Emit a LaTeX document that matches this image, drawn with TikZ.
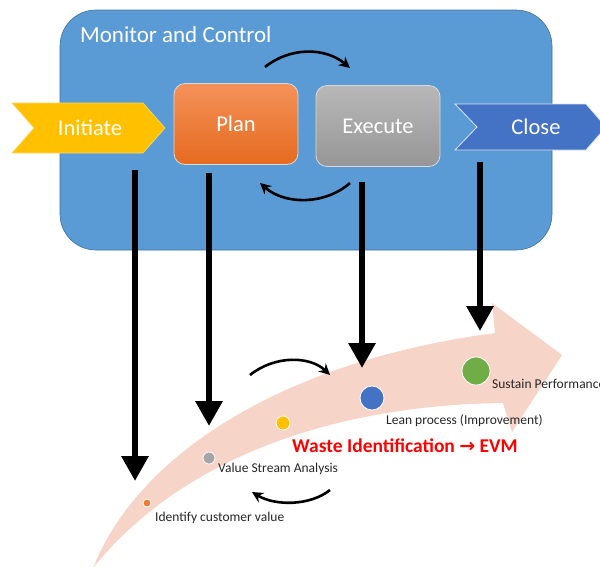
\documentclass[tikz,border=0pt]{standalone}
\usepackage{fontspec}
\setmainfont{Carlito}
\newfontfamily\symfont{DejaVu Sans}
\usetikzlibrary{arrows.meta}
\definecolor{boxblue}{HTML}{5B9BD5}
\definecolor{boxedge}{HTML}{41719C}
\definecolor{gold}{HTML}{FFC000}
\definecolor{orangeA}{HTML}{F4915A}
\definecolor{orangeB}{HTML}{E56B1F}
\definecolor{grayA}{HTML}{B8B8B8}
\definecolor{grayB}{HTML}{969696}
\definecolor{closeblue}{HTML}{4472C4}
\definecolor{flow}{HTML}{F7D4C8}
\definecolor{dotorange}{HTML}{ED7D31}
\definecolor{dotgray}{HTML}{A5A5A5}
\definecolor{dotgreen}{HTML}{70AD47}
\definecolor{labelgray}{HTML}{262626}
\begin{document}
\begin{tikzpicture}[x=1pt,y=-1pt,
  bigtext/.style={text=white, font=\fontsize{22.5}{26}\selectfont},
  phase/.style={bigtext, rounded corners=11pt, draw=white!85!black, line width=0.8pt, minimum width=124pt, minimum height=81pt},
  drop/.style={line width=6pt, -{Triangle[length=25pt,width=26pt]}},
  cycle/.style={line width=2.6pt, -{Stealth[length=11pt,width=11pt]}},
  stepdot/.style={circle, draw=white, line width=0.8pt, inner sep=0pt},
  steplabel/.style={anchor=west, text=labelgray, font=\fontsize{13.5}{16}\selectfont, inner sep=0pt}]
\useasboundingbox (0,0) rectangle (600,566);

% monitoring frame
\filldraw[fill=boxblue, draw=boxedge, line width=0.6pt, rounded corners=36pt] (60,10) rectangle (552,250);
\node[anchor=west, text=white, font=\fontsize{23}{27}\selectfont, inner sep=0pt] (mc) at (80,35) {Monitor and Control};

% entry and exit chevrons
\filldraw[fill=gold, draw=gold!60!white, line width=0.6pt] (12,103) -- (143,103) -- (165,128) -- (143,153) -- (12,153) -- (34,128) -- cycle;
\node[bigtext] (init) at (90,128) {Initiate};
\filldraw[fill=closeblue, draw=white!80!closeblue, line width=0.8pt] (455,104) -- (586,104) -- (606,127) -- (586,150) -- (455,150) -- (477,127) -- cycle;
\node[bigtext] (close) at (536,127) {Close};

% plan and execute boxes
\node[phase, top color=orangeA, bottom color=orangeB] (plan) at (236,124) {Plan};
\node[phase, top color=grayA, bottom color=grayB] (exec) at (378,126) {Execute};

% plan/execute cycle
\coordinate (c1) at (265,67);
\coordinate (c2) at (350,68);
\coordinate (c3) at (350,183);
\coordinate (c4) at (260,183);
\draw[cycle] (c1) .. controls (290,47) and (325,47) .. (c2);
\draw[cycle] (c3) .. controls (325,205) and (285,205) .. (c4);

% lean flow band
\fill[flow] (93,568) .. controls (140,450) and (290,360) .. (495,333) -- (492,303) -- (562,355) -- (512,432) -- (503,403) .. controls (330,405) and (180,460) .. (93,568) -- cycle;

% stages along the band
\node[stepdot, fill=dotorange, minimum size=8pt] (s1) at (147,503) {};
\node[stepdot, fill=dotgray, minimum size=12pt] (s2) at (209,458) {};
\node[stepdot, fill=gold, minimum size=14pt] (s3) at (283,423) {};
\node[stepdot, fill=closeblue, minimum size=24pt] (s4) at (372,398) {};
\node[stepdot, fill=dotgreen, minimum size=28pt] (s5) at (476,371) {};
\node[steplabel] (l1) at (155,518) {Identify customer value};
\node[steplabel] (l2) at (218,469) {Value Stream Analysis};
\node[steplabel] (l4) at (386,421) {Lean process (Improvement)};
\node[steplabel] (l5) at (492,384) {Sustain Performance};
\node[anchor=west, text=red, font=\fontsize{19.5}{23}\selectfont\bfseries, inner sep=0pt] (waste) at (292,446) {Waste Identification {\symfont\fontsize{19}{23}\selectfont\bfseries →} EVM};

% improvement cycle
\coordinate (d1) at (250,375);
\coordinate (d2) at (330,375);
\coordinate (d3) at (330,490);
\coordinate (d4) at (252,492);
\draw[cycle] (d1) .. controls (275,355) and (310,356) .. (d2);
\draw[cycle] (d3) .. controls (310,506) and (275,506) .. (d4);

% phases feeding the flow
\coordinate (a1) at (135,170);
\coordinate (b1) at (135,481);
\coordinate (a2) at (209,173);
\coordinate (b2) at (209,426);
\coordinate (a3) at (362,182);
\coordinate (b3) at (362,368);
\coordinate (a4) at (480,162);
\coordinate (b4) at (480,331);
\draw[drop] (a1) -- (b1);
\draw[drop] (a2) -- (b2);
\draw[drop] (a3) -- (b3);
\draw[drop] (a4) -- (b4);
\end{tikzpicture}
\end{document}
